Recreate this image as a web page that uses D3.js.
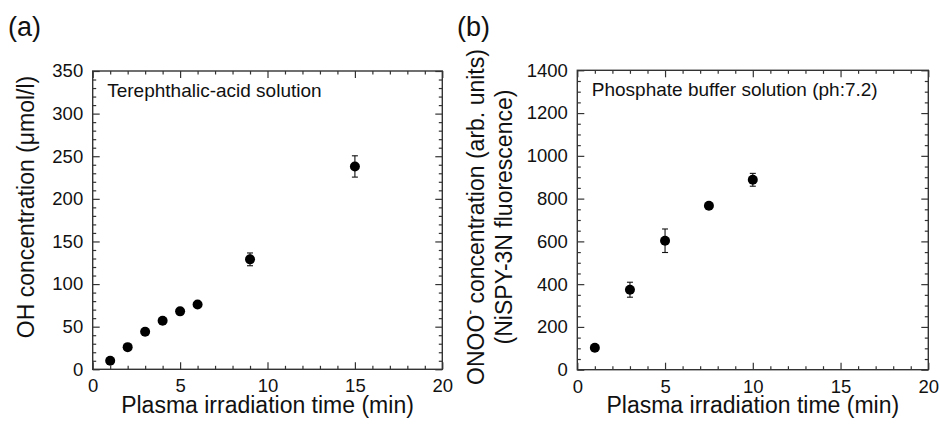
<!DOCTYPE html>
<html>
<head>
<meta charset="utf-8">
<script src="https://cdn.jsdelivr.net/npm/d3@7"></script>
<style>
  html, body { margin: 0; padding: 0; background: #fff; }
  svg { display: block; }
  text { font-family: "Liberation Sans", Arial, Helvetica, sans-serif; fill: #111; }
</style>
</head>
<body>
<svg id="chart" width="940" height="424"></svg>
<script>
// ---- Data ----
const timeA = [1, 2, 3, 4, 5, 6, 9, 15];
const ohConc = [10, 26, 44, 57, 68, 76, 129, 238];
const ohErr = [2, 2, 2, 2, 2, 2, 7.5, 12.5];

const timeB = [1, 3, 5, 7.5, 10];
const onooConc = [103, 374, 603, 767, 888];
const onooErr = [12, 35, 55, 10, 30];

const xTicks = [0, 5, 10, 15, 20];
const yTicksA = [0, 50, 100, 150, 200, 250, 300, 350];
const yTicksB = [0, 200, 400, 600, 800, 1000, 1200, 1400];

const panels = [
  {
    label: "(a)", labelX: 8,
    x: timeA, y: ohConc, e: ohErr,
    xDomain: [0, 20], yDomain: [0, 350],
    yTicks: yTicksA, yMinorStep: 10, xMinorStep: 1,
    left: 92.7, right: 442.3, top: 71, bottom: 369.3,
    note: "Terephthalic-acid solution",
    titleLines: [["OH concentration (\u03bcmol/l)"]],
    titleX: [34], titleY: 207
  },
  {
    label: "(b)", labelX: 457,
    x: timeB, y: onooConc, e: onooErr,
    xDomain: [0, 20], yDomain: [0, 1400],
    yTicks: yTicksB, yMinorStep: 50, xMinorStep: 1,
    left: 577.3, right: 928.3, top: 70.3, bottom: 369.7,
    note: "Phosphate buffer solution (ph:7.2)",
    titleLines: [["ONOO", "-", " concentration (arb. units)"], ["(NiSPY-3N fluorescence)"]],
    titleX: [484, 512], titleY: 217
  }
];

const svg = d3.select("#chart");
const frameColor = "#333";

panels.forEach(p => {
  const g = svg.append("g");
  const xs = d3.scaleLinear().domain(p.xDomain).range([p.left, p.right]);
  const ys = d3.scaleLinear().domain(p.yDomain).range([p.bottom, p.top]);

  const xMinor = d3.range(p.xDomain[0], p.xDomain[1] + 1e-9, p.xMinorStep).filter(v => !xTicks.includes(v));
  const yMinor = d3.range(p.yDomain[0], p.yDomain[1] + 1e-9, p.yMinorStep).filter(v => !p.yTicks.includes(v));

  const majorLen = 7, minorLen = 3.5;

  g.append("g").attr("transform", `translate(0,${p.bottom})`)
    .call(d3.axisBottom(xs).tickValues(xTicks).tickSize(-majorLen).tickPadding(10).tickFormat(d3.format("d")));
  g.append("g").attr("transform", `translate(0,${p.bottom})`)
    .call(d3.axisBottom(xs).tickValues(xMinor).tickSize(-minorLen).tickFormat(""));
  g.append("g").attr("transform", `translate(0,${p.top})`)
    .call(d3.axisTop(xs).tickValues(xTicks).tickSize(-majorLen).tickFormat(""));
  g.append("g").attr("transform", `translate(0,${p.top})`)
    .call(d3.axisTop(xs).tickValues(xMinor).tickSize(-minorLen).tickFormat(""));
  g.append("g").attr("transform", `translate(${p.left},0)`)
    .call(d3.axisLeft(ys).tickValues(p.yTicks).tickSize(-majorLen).tickPadding(9.5).tickFormat(d3.format("d")));
  g.append("g").attr("transform", `translate(${p.left},0)`)
    .call(d3.axisLeft(ys).tickValues(yMinor).tickSize(-minorLen).tickFormat(""));
  g.append("g").attr("transform", `translate(${p.right},0)`)
    .call(d3.axisRight(ys).tickValues(p.yTicks).tickSize(-majorLen).tickFormat(""));
  g.append("g").attr("transform", `translate(${p.right},0)`)
    .call(d3.axisRight(ys).tickValues(yMinor).tickSize(-minorLen).tickFormat(""));

  g.selectAll(".domain").remove();
  g.selectAll(".tick line").attr("stroke", frameColor).attr("stroke-width", 1.2);
  g.selectAll(".tick text")
    .style("font-size", "18.5px")
    .style("fill", "#111")
    .style("font-family", "'Liberation Sans', Arial, sans-serif");

  g.append("rect")
    .attr("x", p.left).attr("y", p.top)
    .attr("width", p.right - p.left).attr("height", p.bottom - p.top)
    .attr("fill", "none").attr("stroke", frameColor).attr("stroke-width", 1.4);

  const capW = 3;
  const eb = g.append("g").attr("stroke", "#111").attr("stroke-width", 1.1);
  p.x.forEach((xv, i) => {
    const cx = xs(xv), y1 = ys(p.y[i] - p.e[i]), y2 = ys(p.y[i] + p.e[i]);
    eb.append("line").attr("x1", cx).attr("x2", cx).attr("y1", y1).attr("y2", y2);
    eb.append("line").attr("x1", cx - capW).attr("x2", cx + capW).attr("y1", y1).attr("y2", y1);
    eb.append("line").attr("x1", cx - capW).attr("x2", cx + capW).attr("y1", y2).attr("y2", y2);
  });

  g.append("g").selectAll("circle").data(p.x).join("circle")
    .attr("cx", d => xs(d))
    .attr("cy", (d, i) => ys(p.y[i]))
    .attr("r", 5)
    .attr("fill", "#000");

  g.append("text").attr("x", p.left + 14.5).attr("y", p.top + 25.5)
    .style("font-size", "19px").text(p.note);

  svg.append("text").attr("x", p.labelX).attr("y", 36)
    .style("font-size", "27px").text(p.label);

  g.append("text").attr("x", (p.left + p.right) / 2).attr("y", 413)
    .attr("text-anchor", "middle").style("font-size", "23px")
    .text("Plasma irradiation time (min)");

  p.titleLines.forEach((parts, li) => {
    const t = g.append("text")
      .attr("transform", `translate(${p.titleX[li]},${p.titleY}) rotate(-90)`)
      .attr("text-anchor", "middle").style("font-size", "23px");
    if (parts.length === 1) {
      t.text(parts[0]);
    } else {
      t.append("tspan").text(parts[0]);
      t.append("tspan").attr("dy", -9).style("font-size", "14px").text(parts[1]);
      t.append("tspan").attr("dy", 9).text(parts[2]);
    }
  });
});
</script>
</body>
</html>
